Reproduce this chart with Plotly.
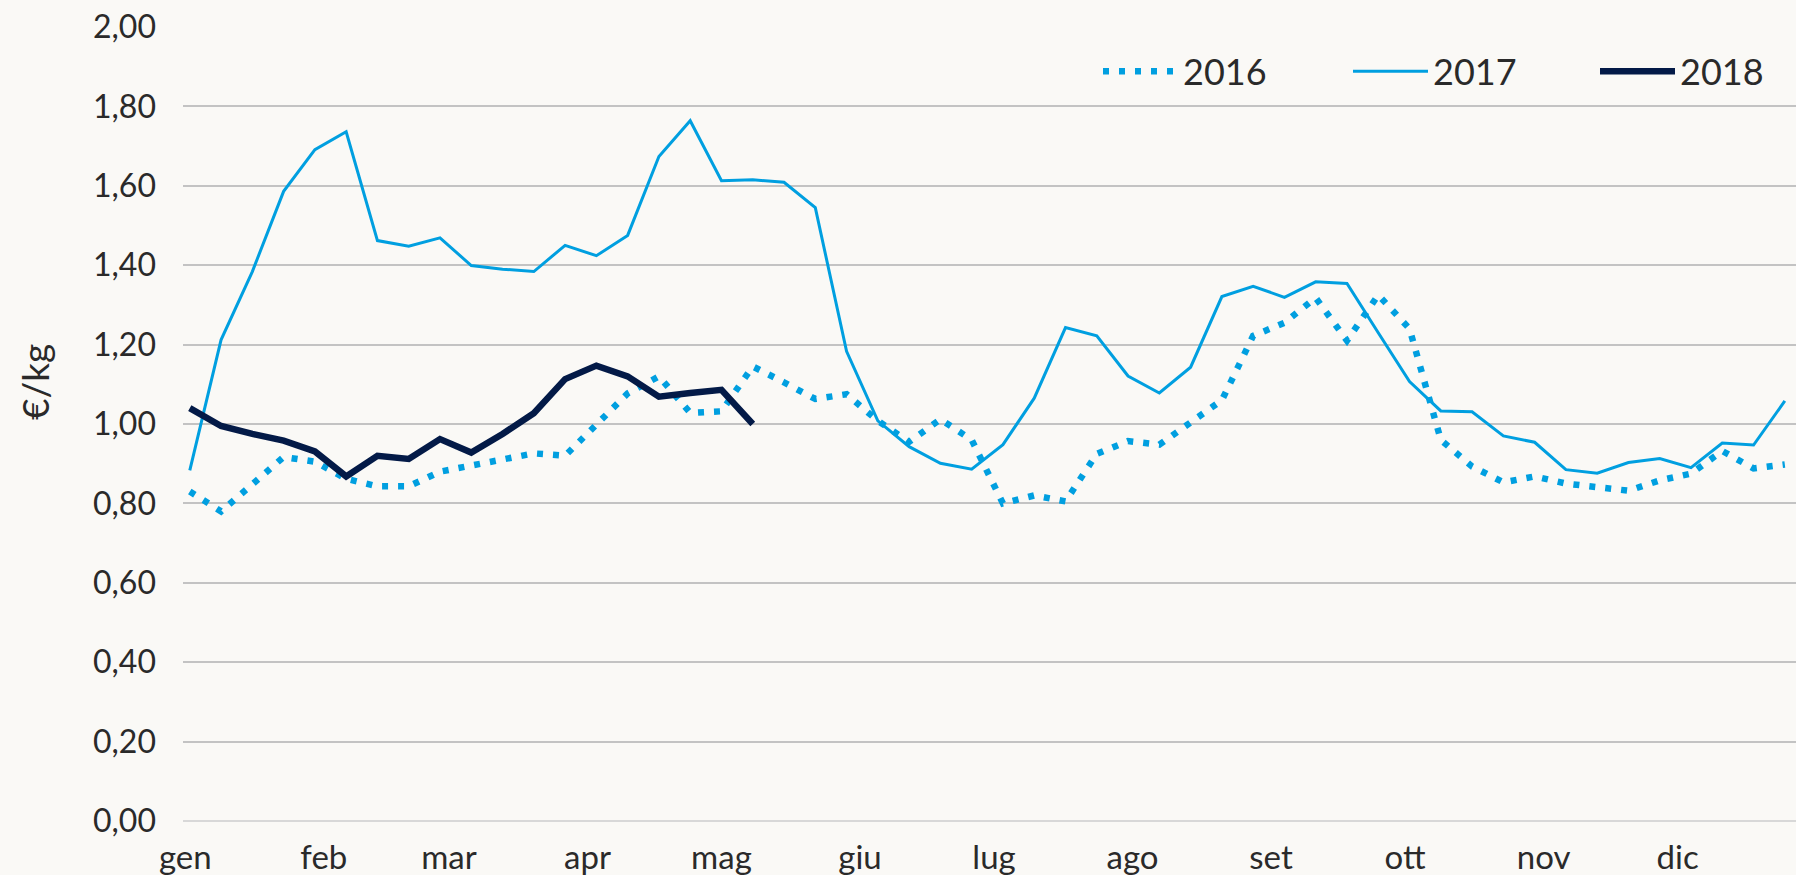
import plotly.graph_objects as go
import pandas as pd

# weekly observation dates (shared x for all years)
weeks = pd.date_range("2017-01-02", periods=52, freq="7D")

y2016 = [0.83, 0.78, 0.848, 0.917, 0.905, 0.862, 0.843, 0.843, 0.88, 0.895,
         0.91, 0.926, 0.92, 1.0, 1.077, 1.12, 1.028, 1.032, 1.145, 1.105,
         1.063, 1.075, 1.008, 0.955, 1.012, 0.96, 0.80, 0.82, 0.805, 0.925,
         0.957, 0.948, 1.005, 1.06, 1.222, 1.255, 1.318, 1.21, 1.325, 1.24,
         0.96, 0.893, 0.853, 0.868, 0.85, 0.84, 0.832, 0.858, 0.875, 0.932,
         0.888, 0.898]

y2017 = [0.883, 1.212, 1.384, 1.586, 1.691, 1.736, 1.462, 1.448, 1.469, 1.399,
         1.390, 1.384, 1.450, 1.424, 1.475, 1.674, 1.764, 1.613, 1.615, 1.609,
         1.545, 1.183, 1.008, 0.943, 0.901, 0.886, 0.948, 1.065, 1.243, 1.222,
         1.121, 1.078, 1.143, 1.321, 1.347, 1.319, 1.358, 1.354, 1.23, 1.107,
         1.033, 1.031, 0.970, 0.954, 0.885, 0.876, 0.903, 0.913, 0.890, 0.952,
         0.947, 1.058]

y2018 = [1.040, 0.995, 0.975, 0.958, 0.931, 0.868, 0.920, 0.912, 0.962, 0.928,
         0.975, 1.027, 1.113, 1.147, 1.120, 1.069, 1.078, 1.086, 1.000]

month_ticks = ["2017-01-01", "2017-02-01", "2017-03-01", "2017-04-01",
               "2017-05-01", "2017-06-01", "2017-07-01", "2017-08-01",
               "2017-09-01", "2017-10-01", "2017-11-01", "2017-12-01"]
month_labels = ["gen", "feb", "mar", "apr", "mag", "giu",
                "lug", "ago", "set", "ott", "nov", "dic"]

y_ticks = [0, 0.2, 0.4, 0.6, 0.8, 1.0, 1.2, 1.4, 1.6, 1.8, 2.0]
y_labels = ["0,00", "0,20", "0,40", "0,60", "0,80", "1,00",
            "1,20", "1,40", "1,60", "1,80", "2,00"]

LIGHT = "#009fe0"
NAVY = "#031a47"
TXT = "#2a2a2a"
BG = "#faf9f6"
FONT = "Lato, 'Open Sans', sans-serif"

fig = go.Figure()
fig.add_trace(go.Scatter(x=weeks, y=y2016, name="2016", mode="lines", legend="legend",
                         line=dict(color=LIGHT, width=6.5, dash="6px,10px")))
fig.add_trace(go.Scatter(x=weeks, y=y2017, name="2017", mode="lines", legend="legend2",
                         line=dict(color=LIGHT, width=3)))
fig.add_trace(go.Scatter(x=weeks[:len(y2018)], y=y2018, name="2018", mode="lines",
                         legend="legend3", line=dict(color=NAVY, width=6.5)))

plot_w = 1796 - 183
plot_h = 875 - 27 - 54


def leg(px_left):
    return dict(orientation="h", x=(px_left - 183) / plot_w, xanchor="left",
                y=0.944, yanchor="middle", bgcolor="rgba(0,0,0,0)",
                font=dict(size=36, color=TXT), itemwidth=75)


fig.update_layout(
    width=1796, height=875,
    margin=dict(l=183, r=0, t=27, b=54),
    paper_bgcolor=BG, plot_bgcolor=BG,
    font=dict(family=FONT, size=31, color=TXT),
    showlegend=True,
    legend=leg(1098), legend2=leg(1348), legend3=leg(1595),
    xaxis=dict(type="date",
               range=["2016-12-31 11:30", "2017-12-27 12:00"],
               tickmode="array", tickvals=month_ticks, ticktext=month_labels,
               showgrid=False, zeroline=False, showline=False,
               ticks="", ticklabelstandoff=14, tickfont=dict(size=33, color=TXT)),
    yaxis=dict(range=[0, 2.0], tickmode="array", tickvals=y_ticks, ticktext=y_labels,
               showgrid=True, gridcolor="#c3c3c3", gridwidth=1.6,
               zeroline=True, zerolinecolor="#d8d8d8", zerolinewidth=2,
               showline=False, ticks="", ticklabelstandoff=26,
               tickfont=dict(size=32, color=TXT)),
    annotations=[dict(text="€/kg", textangle=-90,
                      x=(34 - 183) / plot_w, y=(875 - 54 - 382) / plot_h,
                      xref="paper", yref="paper", xanchor="center", yanchor="middle",
                      showarrow=False, font=dict(size=37, color=TXT))],
)

fig.write_html("out.html", config={"displayModeBar": False},
               post_script="document.body.style.margin='0';")
